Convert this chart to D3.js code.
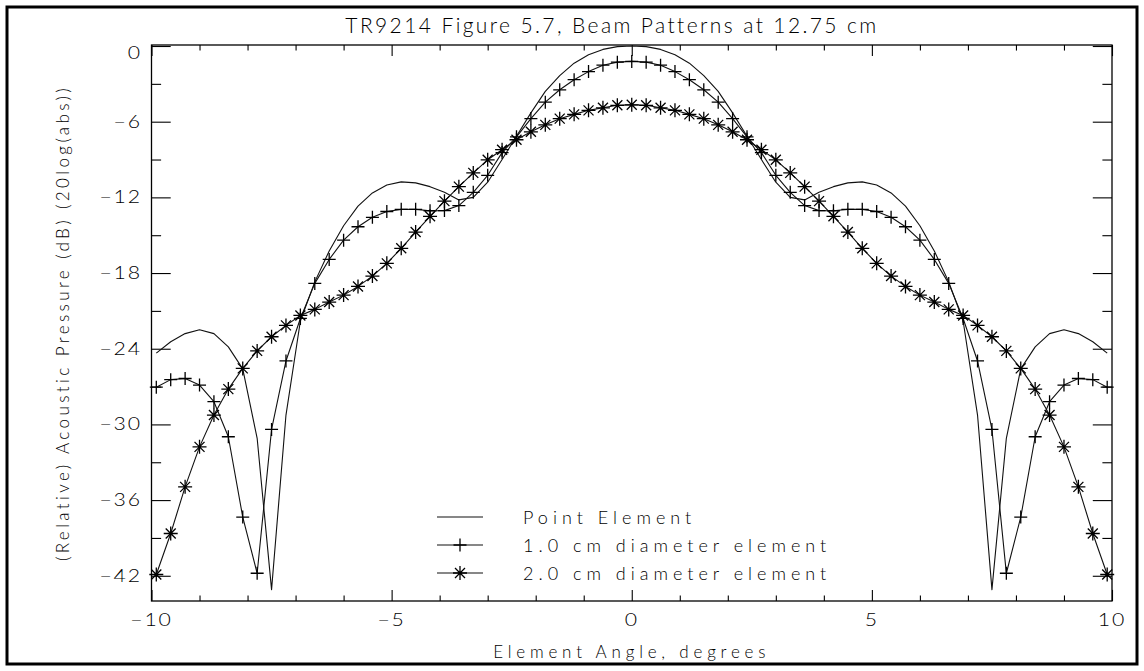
<!DOCTYPE html>
<html>
<head>
<meta charset="utf-8">
<script src="https://cdn.jsdelivr.net/npm/d3@7"></script>
<style>
  html, body { margin: 0; padding: 0; background: #fff; }
  svg { display: block; }
  text { font-family: "Lato", "DejaVu Sans", sans-serif; font-weight: 300; fill: #000; }
</style>
</head>
<body>
<svg id="chart" width="1144" height="671"></svg>
<script>
// Element angle (degrees) of every sample
const angles = [-9.9, -9.6, -9.3, -9.0, -8.7, -8.4, -8.1, -7.8, -7.5, -7.2, -6.9, -6.6, -6.3, -6.0, -5.7, -5.4, -5.1,
  -4.8, -4.5, -4.2, -3.9, -3.6, -3.3, -3.0, -2.7, -2.4, -2.1, -1.8, -1.5, -1.2, -0.9, -0.6, -0.3, 0.0,
  0.3, 0.6, 0.9, 1.2, 1.5, 1.8, 2.1, 2.4, 2.7, 3.0, 3.3, 3.6, 3.9, 4.2, 4.5, 4.8, 5.1, 5.4, 5.7, 6.0,
  6.3, 6.6, 6.9, 7.2, 7.5, 7.8, 8.1, 8.4, 8.7, 9.0, 9.3, 9.6, 9.9];

// Relative acoustic pressure, dB
const pointElement = [-24.35, -23.45, -22.80, -22.50, -22.80, -23.85, -25.60, -31.10, -43.10, -29.26, -21.80,
  -18.70, -16.25, -14.25, -12.70, -11.65, -11.02, -10.77, -10.85, -11.15, -11.60, -12.20, -12.00, -10.80,
  -9.00, -7.15, -5.30, -3.60, -2.35, -1.36, -0.70, -0.27, -0.05, 0.00, -0.05, -0.27, -0.70, -1.36, -2.35,
  -3.60, -5.30, -7.15, -9.00, -10.80, -12.00, -12.20, -11.60, -11.15, -10.85, -10.77, -11.02, -11.65,
  -12.70, -14.25, -16.25, -18.70, -21.80, -29.26, -43.10, -31.10, -25.60, -23.85, -22.80, -22.50, -22.80,
  -23.45, -24.35];

const element1cm = [-27.05, -26.45, -26.36, -26.88, -28.20, -30.98, -37.35, -41.80, -30.40, -24.97, -21.60,
  -18.82, -16.92, -15.39, -14.33, -13.58, -13.12, -12.95, -12.95, -13.06, -13.05, -12.65, -11.60, -10.25,
  -8.45, -7.20, -5.75, -4.45, -3.47, -2.67, -2.03, -1.52, -1.28, -1.22, -1.28, -1.52, -2.03, -2.67, -3.47,
  -4.45, -5.75, -7.20, -8.45, -10.25, -11.60, -12.65, -13.05, -13.06, -12.95, -12.95, -13.12, -13.58,
  -14.33, -15.39, -16.92, -18.82, -21.60, -24.97, -30.40, -41.80, -37.35, -30.98, -28.20, -26.88, -26.36,
  -26.45, -27.05];

const element2cm = [-41.90, -38.65, -34.95, -31.78, -29.26, -27.20, -25.56, -24.17, -23.05, -22.15, -21.36,
  -20.88, -20.30, -19.75, -19.06, -18.24, -17.23, -16.04, -14.75, -13.50, -12.30, -11.15, -10.06, -9.02,
  -8.22, -7.43, -6.80, -6.25, -5.76, -5.42, -5.10, -4.90, -4.70, -4.66, -4.70, -4.90, -5.10, -5.42, -5.76,
  -6.25, -6.80, -7.43, -8.22, -9.02, -10.06, -11.15, -12.30, -13.50, -14.75, -16.04, -17.23, -18.24,
  -19.06, -19.75, -20.30, -20.88, -21.36, -22.15, -23.05, -24.17, -25.56, -27.20, -29.26, -31.78, -34.95,
  -38.65, -41.90];

const seriesNames = ["Point Element", "1.0 cm diameter element", "2.0 cm diameter element"];
const seriesSymbols = ["none", "plus", "asterisk"];

const xMajorTicks = [-10, -5, 0, 5, 10];
const xMinorTicks = [-9, -8, -7, -6, -4, -3, -2, -1, 1, 2, 3, 4, 6, 7, 8, 9];
const yMajorTicks = [-42, -36, -30, -24, -18, -12, -6, 0];
const yMinorTicks = [-39, -33, -27, -21, -15, -9, -3];

const titleText = "TR9214 Figure 5.7, Beam Patterns at 12.75 cm";
const xTitle = "Element Angle, degrees";
const yTitle = "(Relative) Acoustic Pressure (dB) (20log(abs))";

// ---- layout ----
const W = 1144, H = 671;
const plot = { left: 151.5, right: 1112, top: 45, bottom: 601 };
const svg = d3.select("#chart");

const x = d3.scaleLinear().domain([-10, 10]).range([plot.left, plot.right]);
const y = d3.scaleLinear().domain([-44, 0.08]).range([plot.bottom, plot.top]);

const fmt = d => (d < 0 ? "\u2212" + Math.abs(d) : String(d));

// outer page frame
svg.append("rect")
  .attr("x", 7).attr("y", 7).attr("width", W - 14).attr("height", H - 14)
  .attr("fill", "none").attr("stroke", "#000").attr("stroke-width", 3);

// axes: major and minor ticks point into the plot on all four sides
const xTickMaj = (plot.bottom - plot.top) * 0.02;
const yTickMaj = (plot.right - plot.left) * 0.02;

function styleAxis(g) {
  g.select(".domain").remove();
  g.selectAll(".tick line").attr("stroke", "#000").attr("stroke-width", 1.1);
}

const axes = [
  [d3.axisBottom(x).tickValues(xMajorTicks).tickSize(-xTickMaj), `translate(0,${plot.bottom})`],
  [d3.axisBottom(x).tickValues(xMinorTicks).tickSize(-xTickMaj / 2), `translate(0,${plot.bottom})`],
  [d3.axisTop(x).tickValues(xMajorTicks).tickSize(-xTickMaj), `translate(0,${plot.top})`],
  [d3.axisTop(x).tickValues(xMinorTicks).tickSize(-xTickMaj / 2), `translate(0,${plot.top})`],
  [d3.axisLeft(y).tickValues(yMajorTicks).tickSize(-yTickMaj), `translate(${plot.left},0)`],
  [d3.axisLeft(y).tickValues(yMinorTicks).tickSize(-yTickMaj / 2), `translate(${plot.left},0)`],
  [d3.axisRight(y).tickValues(yMajorTicks).tickSize(-yTickMaj), `translate(${plot.right},0)`],
  [d3.axisRight(y).tickValues(yMinorTicks).tickSize(-yTickMaj / 2), `translate(${plot.right},0)`]
];
axes.forEach(([ax, tr]) => {
  svg.append("g").attr("transform", tr).call(ax.tickFormat("")).call(styleAxis);
});

// tick labels, stretched horizontally for a wide stroke-font look
const stretch = 1.25;
svg.append("g").selectAll("text").data(xMajorTicks).join("text")
  .attr("transform", d => `translate(${x(d)},626) scale(${stretch},1)`)
  .attr("text-anchor", "middle").attr("font-size", 17).attr("letter-spacing", 1.5)
  .text(fmt);
svg.append("g").selectAll("text").data(yMajorTicks).join("text")
  .attr("transform", d => `translate(142,${d === 0 ? y(d) + 13 : y(d) + 6}) scale(${stretch},1)`)
  .attr("text-anchor", "end").attr("font-size", 17).attr("letter-spacing", 1.5)
  .text(fmt);

// plot box
svg.append("rect")
  .attr("x", plot.left).attr("y", plot.top)
  .attr("width", plot.right - plot.left).attr("height", plot.bottom - plot.top)
  .attr("fill", "none").attr("stroke", "#000").attr("stroke-width", 1.3);

// titles
svg.append("text").attr("x", 612).attr("y", 33)
  .attr("text-anchor", "middle").attr("font-size", 21).attr("letter-spacing", 2.4)
  .text(titleText);
svg.append("text").attr("x", (plot.left + plot.right) / 2).attr("y", 658)
  .attr("text-anchor", "middle").attr("font-size", 17).attr("letter-spacing", 4.8)
  .text(xTitle);
svg.append("text")
  .attr("transform", `translate(69,${(plot.top + plot.bottom) / 2}) rotate(-90)`)
  .attr("text-anchor", "middle").attr("font-size", 17).attr("letter-spacing", 3.4)
  .text(yTitle);

// markers
const symbolPath = {
  plus: "M-6.5,0H6.5M0,-6.5V6.5",
  asterisk: "M-7,0H7M0,-7V7M-5,-5L5,5M-5,5L5,-5",
  none: ""
};

const line = d3.line().x(d => x(d[0])).y(d => y(d[1]));
const seriesValues = [pointElement, element1cm, element2cm];

seriesValues.forEach((vals, i) => {
  const pts = angles.map((a, j) => [a, vals[j]]);
  svg.append("path").datum(pts).attr("d", line)
    .attr("fill", "none").attr("stroke", "#111").attr("stroke-width", 1.1)
    .attr("stroke-linejoin", "round");
  if (seriesSymbols[i] !== "none") {
    svg.append("g").selectAll("path").data(pts).join("path")
      .attr("transform", d => `translate(${x(d[0])},${y(d[1])})`)
      .attr("d", symbolPath[seriesSymbols[i]])
      .attr("fill", "none").attr("stroke", "#000").attr("stroke-width", 1.3);
  }
});

// legend
const legend = svg.append("g");
const legRows = [517, 545, 573];
seriesNames.forEach((name, i) => {
  const ly = legRows[i];
  legend.append("line").attr("x1", 437).attr("x2", 483).attr("y1", ly).attr("y2", ly)
    .attr("stroke", "#111").attr("stroke-width", 1.1);
  if (seriesSymbols[i] !== "none") {
    legend.append("path").attr("transform", `translate(460,${ly})`)
      .attr("d", symbolPath[seriesSymbols[i]])
      .attr("fill", "none").attr("stroke", "#000").attr("stroke-width", 1.3);
  }
  legend.append("text").attr("x", 523).attr("y", ly + 6.5)
    .attr("font-size", 18).attr("letter-spacing", 5)
    .text(name);
});
</script>
</body>
</html>
